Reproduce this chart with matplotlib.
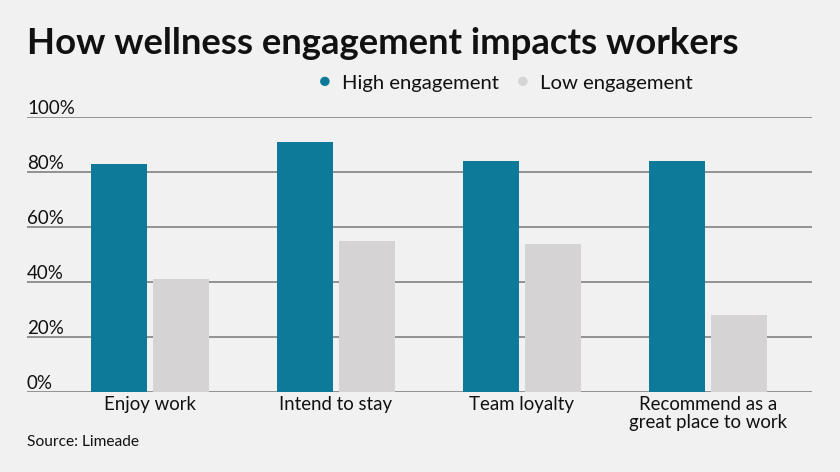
import matplotlib.pyplot as plt
import numpy as np

categorias = ['Enjoy work', 'Intend to stay', 'Team loyalty', 'Recommend as a\ngreat place to work']
altoEngajamento = [83, 91, 84, 84]
baixoEngajamento = [41, 55, 54, 28]
ticksY = [0, 20, 40, 60, 80, 100]
rotulosY = ['0%', '20%', '40%', '60%', '80%', '100%']

corFundo = '#f0f1f0'
corAlto = '#0c7a98'
corBaixo = '#d5d3d4'
corGrade = '#8a8a8a'

plt.rcParams['font.family'] = ['Lato', 'DejaVu Sans']

fig = plt.figure(figsize=(8.4, 4.72), dpi=100, facecolor=corFundo)
# eixo posicionado em pixels: x 27-812, y 117-392 (altura 472)
ax = fig.add_axes([27 / 840, 1 - 392 / 472, (812 - 27) / 840, (392 - 117) / 472])
ax.set_facecolor(corFundo)

x = np.arange(len(categorias))
larg = 0.301
desloc = 0.167
ax.bar(x - desloc, altoEngajamento, width=larg, color=corAlto, zorder=3)
ax.bar(x + desloc, baixoEngajamento, width=larg, color=corBaixo, zorder=3)

ax.set_xlim(-0.661, 3.559)
ax.set_ylim(0, 100)

# linhas de grade horizontais
for t in ticksY:
    ax.axhline(t, color=corGrade, linewidth=1.3, zorder=1)

for t, rot in zip(ticksY, rotulosY):
    ax.text(-0.661, t + 1.1, rot, fontsize=13.5, color='#111111', ha='left', va='baseline', zorder=4)

ax.set_xticks(x)
ax.set_xticklabels(categorias, fontsize=13.4, color='#111111', linespacing=1.05)
ax.tick_params(axis='x', length=0, pad=3)
ax.set_yticks([])
for lado in ax.spines.values():
    lado.set_visible(False)

fig.text(27 / 840, 1 - 54 / 472, 'How wellness engagement impacts workers', fontsize=26.3,
         fontweight='bold', color='#111111', ha='left', va='baseline')

# legenda manual
fig.text(325 / 840, 1 - 82 / 472, '\u25cf', fontsize=14, color=corAlto, ha='center', va='center')
fig.text(342 / 840, 1 - 89 / 472, 'High engagement', fontsize=14.6, color='#111111', ha='left', va='baseline')
fig.text(523 / 840, 1 - 82 / 472, '\u25cf', fontsize=14, color=corBaixo, ha='center', va='center')
fig.text(540 / 840, 1 - 89 / 472, 'Low engagement', fontsize=14.6, color='#111111', ha='left', va='baseline')

fig.text(27 / 840, 1 - 446 / 472, 'Source: Limeade', fontsize=11.2, color='#111111', ha='left', va='baseline')

fig.savefig('out.png', dpi=100, facecolor=corFundo)
